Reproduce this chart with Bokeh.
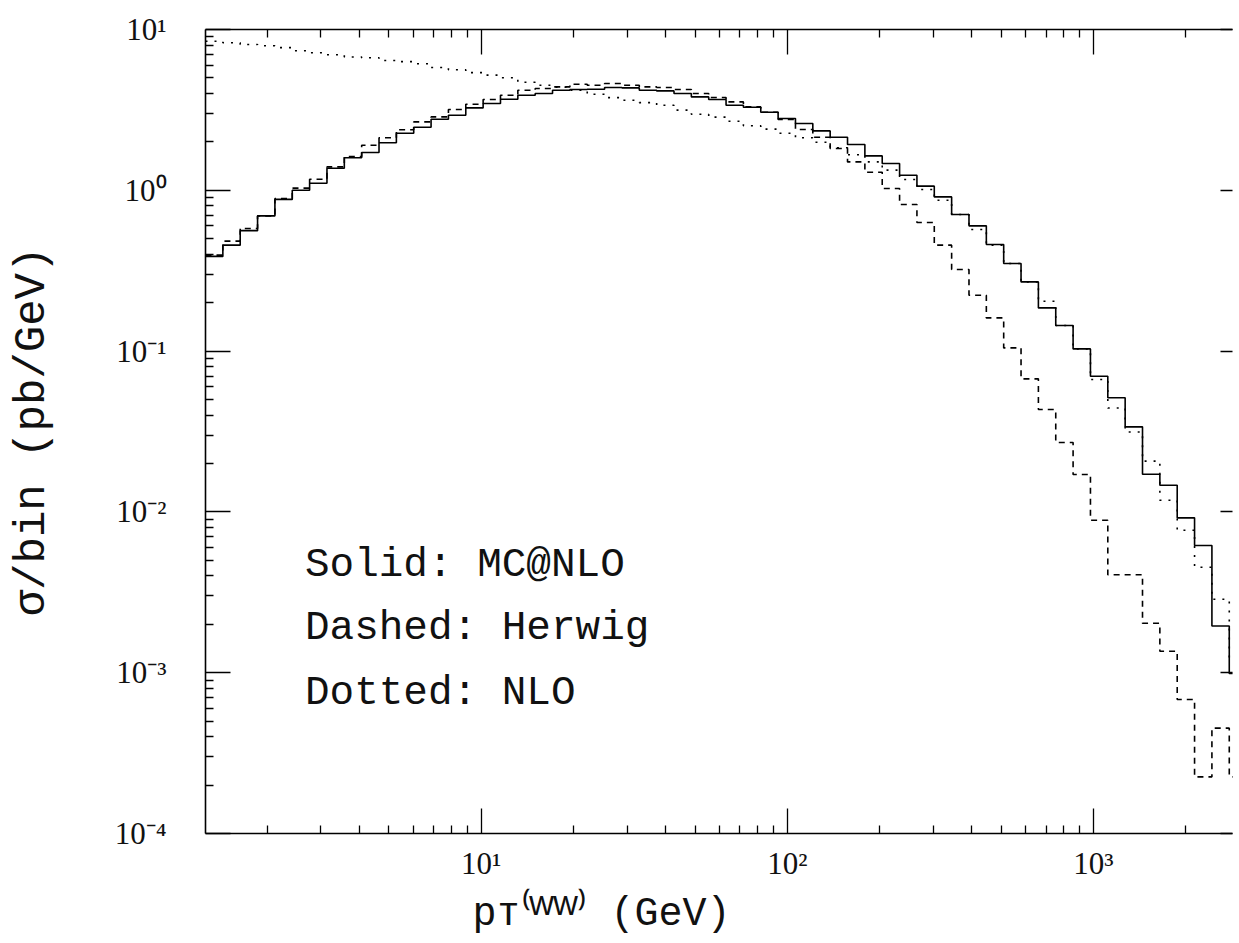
import numpy as np
from bokeh.plotting import figure
from bokeh.models import FixedTicker, LinearAxis, Label, Title, CustomLabelingPolicy
from bokeh.embed import file_html
from bokeh.resources import INLINE

# ---- data -------------------------------------------------------------
# histogram bins: 60 bins, uniform in log10(pT) from 0.1 to 3.5
LOG_LO, LOG_HI, NBINS = 0.1, 3.5, 60
edges = 10 ** np.linspace(LOG_LO, LOG_HI, NBINS + 1)

mcatnlo = [0.388, 0.456, 0.561, 0.693, 0.878, 1.00, 1.107, 1.372, 1.595, 1.718,
           1.977, 2.265, 2.469, 2.768, 2.931, 3.253, 3.466, 3.686, 3.903, 3.999,
           4.194, 4.236, 4.254, 4.359, 4.334, 4.194, 4.152, 3.999, 3.809, 3.670,
           3.382, 3.287, 3.060, 2.796, 2.603, 2.341, 2.139, 1.927, 1.636, 1.468,
           1.241, 1.061, 0.910, 0.707, 0.601, 0.460, 0.3505, 0.2694, 0.1856, 0.1443,
           0.1032, 0.0698, 0.0513, 0.0338, 0.01716, 0.01466, 0.00918, 0.00618, 0.00195, 0.000989]

herwig = [0.395, 0.483, 0.579, 0.693, 0.887, 1.031, 1.172, 1.398, 1.623, 1.908,
          2.124, 2.378, 2.663, 2.860, 3.180, 3.430, 3.670, 3.903, 4.194, 4.297,
          4.396, 4.569, 4.504, 4.616, 4.504, 4.396, 4.359, 4.236, 3.999, 3.777,
          3.546, 3.301, 3.060, 2.756, 2.388, 2.139, 1.820, 1.502, 1.296, 1.026,
          0.816, 0.631, 0.456, 0.3218, 0.2227, 0.1609, 0.1047, 0.0672, 0.0433, 0.0270,
          0.01708, 0.00888, 0.00407, 0.00407, 0.00203, 0.00136, 0.000681, 0.000225, 0.000452, 0.000225]

nlo = [8.46, 8.28, 8.07, 7.93, 7.71, 7.38, 7.17, 6.97, 6.75, 6.68,
       6.42, 6.31, 6.13, 5.80, 5.62, 5.39, 5.20, 5.01, 4.70, 4.50,
       4.38, 4.19, 3.96, 3.77, 3.63, 3.51, 3.38, 3.15, 2.97, 2.85,
       2.69, 2.52, 2.40, 2.265, 2.124, 1.991, 1.840, 1.665, 1.502, 1.334,
       1.167, 1.012, 0.868, 0.707, 0.571, 0.456, 0.3505, 0.2694, 0.2043, 0.1443,
       0.1032, 0.0666, 0.0443, 0.0314, 0.0207, 0.01182, 0.00769, 0.00453, 0.00286, 0.001196]

x_major = [10, 100, 1000]
y_major = [1e-4, 1e-3, 1e-2, 1e-1, 1e0, 1e1]
x_labels = {10: "10\u00b9", 100: "10\u00b2", 1000: "10\u00b3"}
y_labels = {1e-4: "10\u207b\u2074", 1e-3: "10\u207b\u00b3", 1e-2: "10\u207b\u00b2",
            1e-1: "10\u207b\u00b9", 1e0: "10\u2070", 1e1: "10\u00b9"}

legend_lines = ["Solid: MC@NLO", "Dashed: Herwig", "Dotted: NLO"]
x_title = "p\u1d1b\u207d\u1d42\u1d42\u207e (GeV)"
y_title = "\u03c3/bin (pb/GeV)"

# ---- figure -----------------------------------------------------------
W, H = 1239, 943
FL, FT, FW, FH = 205, 29, 1033, 804          # frame box in page pixels
X_END = 10 ** (LOG_LO + FW / 308.0)
p = figure(width=W, height=H, x_axis_type="log", y_axis_type="log",
           x_range=(10 ** LOG_LO, X_END), y_range=(1e-4, 10),
           output_backend="svg", toolbar_location=None,
           min_border_left=FL, min_border_right=W - FL - FW,
           min_border_top=FT, min_border_bottom=H - FT - FH)
p.outline_line_color = None
p.grid.visible = False
p.background_fill_color = "white"
p.border_fill_color = "white"

x_minor = [m * 10 ** k for k in range(0, 4) for m in range(2, 10)]
y_minor = [m * 10.0 ** k for k in range(-4, 1) for m in range(2, 10)]
xt = FixedTicker(ticks=x_major, minor_ticks=x_minor)
yt = FixedTicker(ticks=y_major, minor_ticks=y_minor)

TICK_FONT = "Liberation Serif"
TEXT_FONT = "Liberation Mono"
INK = "#111111"

no_labels = CustomLabelingPolicy(code="return new indices.constructor(indices.size, 0)")


def style_axis(ax, labels=True):
    ax.axis_line_color = "black"
    ax.axis_line_width = 1.6
    ax.major_tick_in = 25
    ax.major_tick_out = 0
    ax.minor_tick_in = 8
    ax.minor_tick_out = 0
    ax.major_tick_line_color = "black"
    ax.minor_tick_line_color = "black"
    ax.major_tick_line_width = 1.3
    ax.minor_tick_line_width = 1.3
    ax.major_label_text_font = TICK_FONT
    ax.major_label_text_font_size = "31px"
    ax.major_label_text_font_style = "normal"
    ax.major_label_text_color = INK
    if not labels:
        ax.major_label_text_font_size = "1px"
        ax.major_label_standoff = 0
        ax.major_label_policy = no_labels


xa = p.xaxis[0]
xa.ticker = xt
style_axis(xa)
xa.major_label_overrides = x_labels
xa.major_label_standoff = 12
xa.major_label_text_align = "right"

ya = p.yaxis[0]
ya.ticker = yt
style_axis(ya)
ya.major_label_overrides = y_labels
ya.major_label_standoff = 39
ya.axis_label = y_title
ya.axis_label_text_font = TEXT_FONT
ya.axis_label_text_font_size = "44px"
ya.axis_label_text_font_style = "normal"
ya.axis_label_text_color = INK
ya.axis_label_standoff = 55

top = LinearAxis(ticker=xt)
style_axis(top, labels=False)
p.add_layout(top, "above")

right = LinearAxis(ticker=yt)
style_axis(right, labels=False)
right.axis_line_color = None
right.major_tick_in = 12
right.minor_tick_line_color = None
p.add_layout(right, "right")

# ---- histograms -------------------------------------------------------
def closed(v):
    return list(v) + [v[-1]]

p.step(edges, closed(nlo), mode="after", line_color="black", line_width=1.6, line_dash="2 7")
p.step(edges, closed(herwig), mode="after", line_color="black", line_width=1.6, line_dash="6 5")
p.step(edges, closed(mcatnlo), mode="after", line_color="black", line_width=1.6)

# ---- texts ------------------------------------------------------------
def sx(px):
    return 10 ** (LOG_LO + (px - FL) / 308.0)


def sy(py):
    return 10 ** ((190.1 - py) / 160.8)


for txt, base in zip(legend_lines, [565, 628, 693]):
    p.add_layout(Label(x=sx(305), y=sy(base), text=txt, text_font=TEXT_FONT,
                       text_font_size="41px", text_baseline="alphabetic",
                       text_color=INK))

xt_title = Title(text=x_title, align="left", offset=267, text_font=TEXT_FONT,
                 text_font_size="40px", text_font_style="normal", text_color=INK)
try:
    xt_title.standoff = 13
except AttributeError:
    pass
p.add_layout(xt_title, "below")

open("out.html", "w").write(file_html(p, INLINE))
